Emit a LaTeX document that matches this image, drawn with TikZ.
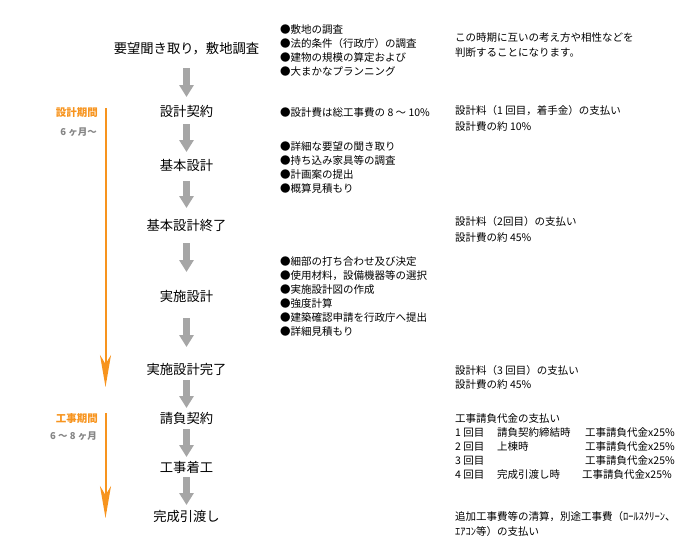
\documentclass[tikz,border=0pt]{standalone}
\usepackage{fontspec}
\setmainfont{Noto Sans CJK JP}
\usetikzlibrary{arrows.meta}

\definecolor{kikan}{HTML}{F7941E}
\definecolor{yaji}{HTML}{A6A6A6}
\definecolor{tsuki}{HTML}{858585}

\tikzset{
  koutei/.style={font=\fontsize{13.3}{16}\selectfont, inner sep=0pt},
  setsumei/.style={font=\fontsize{10.5}{14}\selectfont, inner sep=0pt, anchor=north west, align=left},
  nagare/.style={yaji, line width=6.5pt, -{Triangle[length=12pt,width=14pt]}},
  kikanyaji/.style={kikan, line width=2pt, -{Stealth[length=32pt,width=11pt,inset=9pt]}},
  kikanmei/.style={kikan, font=\fontsize{10.5}{12}\selectfont\bfseries, anchor=east, inner sep=0pt},
  tsukisuu/.style={tsuki, font=\fontsize{9.5}{11}\selectfont\bfseries, anchor=east, inner sep=0pt}
}

\begin{document}
\begin{tikzpicture}[x=1pt,y=-1pt]
\useasboundingbox (0,0) rectangle (700,550);

% steps
\node[koutei] (youbou) at (186.5,49) {要望聞き取り，敷地調査};
\node[koutei] (keiyaku) at (186.5,111) {設計契約};
\node[koutei] (kihon) at (186.5,165) {基本設計};
\node[koutei] (kihonend) at (186.5,225) {基本設計終了};
\node[koutei] (jisshi) at (186.5,296) {実施設計};
\node[koutei] (jisshiend) at (186.5,369) {実施設計完了};
\node[koutei] (ukeoi) at (186.5,418) {請負契約};
\node[koutei] (chakkou) at (186.5,467) {工事着工};
\node[koutei] (hikiwatashi) at (186.5,516) {完成引渡し};

% gray arrows
\draw[nagare, shorten <=19pt, shorten >=14pt] (youbou.center) -- (keiyaku.center);
\draw[nagare, shorten <=13pt, shorten >=13pt] (keiyaku.center) -- (kihon.center);
\draw[nagare, shorten <=16pt, shorten >=17pt] (kihon.center) -- (kihonend.center);
\draw[nagare, shorten <=18pt, shorten >=24pt] (kihonend.center) -- (jisshi.center);
\draw[nagare, shorten <=22pt, shorten >=22pt] (jisshi.center) -- (jisshiend.center);
\draw[nagare, shorten <=11pt, shorten >=10pt] (jisshiend.center) -- (ukeoi.center);
\draw[nagare, shorten <=11pt, shorten >=10pt] (ukeoi.center) -- (chakkou.center);
\draw[nagare, shorten <=10pt, shorten >=11pt] (chakkou.center) -- (hikiwatashi.center);

% periods
\coordinate (sekkeitop) at (105.5,108);
\coordinate (sekkeiend) at (105.5,387);
\draw[kikanyaji] (sekkeitop) -- (sekkeiend);
\node[kikanmei] (sekkeikikan) at (98,113) {設計期間};
\node[tsukisuu] (sekkeitsuki) at (97,132) {6 ヶ月～};

\coordinate (koujitop) at (105.5,413);
\coordinate (koujiend) at (105.5,518);
\draw[kikanyaji] (koujitop) -- (koujiend);
\node[kikanmei] (koujikikan) at (98,419) {工事期間};
\node[tsukisuu] (koujitsuki) at (97,436) {6 ～ 8 ヶ月};

% bullet lists
\node[setsumei] (chousa) at (280,24) {●敷地の調査\\●法的条件（行政庁）の調査\\●建物の規模の算定および\\●大まかなプランニング};
\node[setsumei] (sekkeihi) at (280,107) {●設計費は総工事費の 8 ～ 10\%};
\node[setsumei] (kihonlist) at (280,141) {●詳細な要望の聞き取り\\●持ち込み家具等の調査\\●計画案の提出\\●概算見積もり};
\node[setsumei] (jisshilist) at (280,256) {●細部の打ち合わせ及び決定\\●使用材料，設備機器等の選択\\●実施設計図の作成\\●強度計算\\●建築確認申請を行政庁へ提出\\●詳細見積もり};

% payments
\node[setsumei] (aishou) at (455,32) {この時期に互いの考え方や相性などを\\[1pt]判断することになります。};
\node[setsumei] (shiharai1) at (455,105) {設計料（1 回目，着手金）の支払い\\[2pt]設計費の約 10\%};
\node[setsumei] (shiharai2) at (455,216) {設計料（2回目）の支払い\\[2pt]設計費の約 45\%};
\node[setsumei] (shiharai3) at (455,365) {設計料（3 回目）の支払い\\設計費の約 45\%};
\node[setsumei] (ukeoidai) at (455,412) {%
  \begin{tabular}{@{}p{42pt}@{}p{88pt}@{}l@{}}
  \multicolumn{3}{@{}l@{}}{工事請負代金の支払い}\\
  1 回目 & 請負契約締結時 & 工事請負代金x25\%\\
  2 回目 & 上棟時 & 工事請負代金x25\%\\
  3 回目 & & 工事請負代金x25\%\\
  4 回目 & 完成引渡し時 & \hspace*{-3pt}工事請負代金x25\%
  \end{tabular}};
\node[setsumei] (seisan) at (455,511) {追加工事費等の清算，別途工事費（ﾛｰﾙｽｸﾘｰﾝ、\\[1pt]ｴｱｺﾝ等）の支払い};
\end{tikzpicture}
\end{document}
